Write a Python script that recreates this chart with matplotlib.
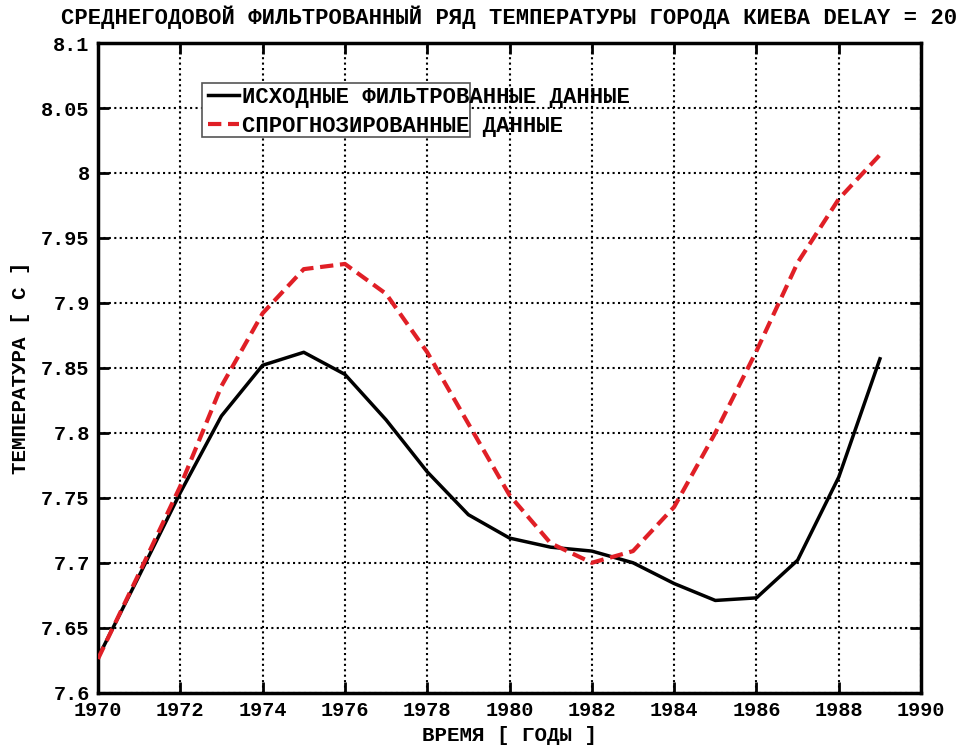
import numpy as np
import matplotlib
matplotlib.use("Agg")
import matplotlib.pyplot as plt
from matplotlib.patches import Rectangle

# years and series
years = list(range(1970, 1990))
filtered = [7.627, 7.690, 7.754, 7.813, 7.852, 7.862, 7.845, 7.810, 7.770, 7.737,
            7.719, 7.712, 7.709, 7.700, 7.684, 7.671, 7.673, 7.702, 7.766, 7.857]
forecast = [7.626, 7.692, 7.759, 7.836, 7.892, 7.926, 7.930, 7.907, 7.862, 7.807,
            7.752, 7.715, 7.700, 7.709, 7.743, 7.800, 7.863, 7.931, 7.980, 8.014]

xticks = list(range(1970, 1991, 2))
yticks = [7.6, 7.65, 7.7, 7.75, 7.8, 7.85, 7.9, 7.95, 8.0, 8.05, 8.1]
ytick_labels = ["7.6", "7.65", "7.7", "7.75", "7.8", "7.85", "7.9", "7.95", "8", "8.05", "8.1"]

title = "СРЕДНЕГОДОВОЙ ФИЛЬТРОВАННЫЙ РЯД ТЕМПЕРАТУРЫ ГОРОДА КИЕВА DELAY = 20"
label_filtered = "ИСХОДНЫЕ ФИЛЬТРОВАННЫЕ ДАННЫЕ"
label_forecast = "СПРОГНОЗИРОВАННЫЕ ДАННЫЕ"

plt.rcParams['font.family'] = ['Liberation Mono', 'DejaVu Sans Mono']
plt.rcParams['font.weight'] = 'bold'

fig = plt.figure(figsize=(9.56, 7.45), dpi=100)
ax = fig.add_axes([0.1025, 0.0702, 0.861, 0.872])

ax.plot(years, filtered, color='black', lw=2.5, label=label_filtered, zorder=3)
ax.plot(years, forecast, color='#e01f26', lw=3, ls=(0, (3.2, 1.6)), label=label_forecast, zorder=3)

ax.set_xlim(1970, 1990)
ax.set_ylim(7.6, 8.1)
ax.set_xticks(xticks)
ax.set_yticks(yticks)
ax.set_yticklabels(ytick_labels)
ax.tick_params(direction='in', length=8, width=2, top=True, right=True,
               labelsize=14.5, pad=6)
for lab in ax.get_xticklabels() + ax.get_yticklabels():
    lab.set_fontweight('bold')
for s in ax.spines.values():
    s.set_linewidth(2.5)
ax.grid(True, color='black', ls=(0, (1, 1.6)), lw=1.5)

ax.set_title(title, fontsize=16, fontweight='bold', pad=14)
ax.set_xlabel("ВРЕМЯ [ ГОДЫ ]", fontsize=15, fontweight='bold', labelpad=4)
ax.set_ylabel("ТЕМПЕРАТУРА [ С ]", fontsize=15, fontweight='bold', labelpad=8)

# legend box (text runs past it, as in the original)
box = Rectangle((0.1264, 0.855), 0.3256, 0.0835, transform=ax.transAxes,
                facecolor='white', edgecolor='#555555', lw=1.2, zorder=4)
ax.add_patch(box)
leg = ax.legend(loc='upper left', bbox_to_anchor=(0.1225, 0.9458), frameon=False,
                fontsize=16, handlelength=1.4, handletextpad=0.15,
                labelspacing=0.34, borderaxespad=0)
leg.set_zorder(5)
for t in leg.get_texts():
    t.set_fontweight('bold')

fig.savefig("out.png", dpi=100)
